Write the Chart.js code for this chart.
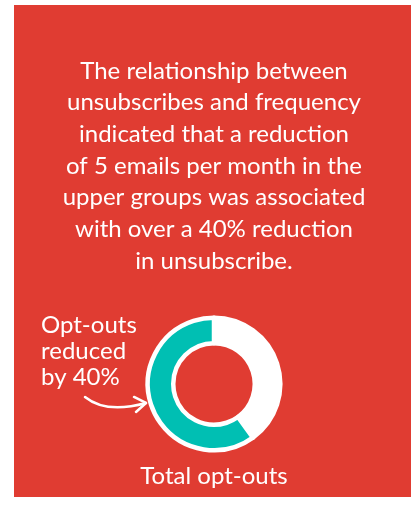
<!DOCTYPE html>
<html>
<head>
<meta charset="utf-8">
<script src="https://cdn.jsdelivr.net/npm/chart.js@4.4.0/dist/chart.umd.min.js"></script>
<style>
  html, body { margin: 0; padding: 0; background: #fff; }
  .panel { position: absolute; left: 14px; top: 5px; width: 397px; height: 492px; background: #e03c32; }
  .wrap { position: absolute; left: 0; top: 0; width: 411px; height: 506px; }
</style>
</head>
<body>
<div class="panel"></div>
<div class="wrap"><canvas id="optChart"></canvas></div>
<script>
// Chart data
const categories = ['Opt-outs reduced', 'Remaining opt-outs'];
const shares = [40, 60];
const sliceColors = ['#ffffff', '#00bfb3'];

const headline = [
    'The relationship between',
    'unsubscribes and frequency',
    'indicated that a reduction',
    'of 5 emails per month in the',
    'upper groups was associated',
    'with over a 40% reduction',
    'in unsubscribe.'
];
const calloutLines = ['Opt-outs', 'reduced', 'by 40%'];
const footerLabel = 'Total opt-outs';

// Callout text + curved arrow, placed next to the doughnut
const calloutPlugin = {
    id: 'callout',
    afterDraw(chart) {
        const arc = chart.getDatasetMeta(0).data[0];
        if (!arc) return;
        const cx = arc.x, cy = arc.y;
        const ctx = chart.ctx;
        ctx.save();
        ctx.fillStyle = '#fff';
        ctx.font = '24px Lato';
        ctx.textAlign = 'left';
        ctx.textBaseline = 'alphabetic';
        calloutLines.forEach((line, i) => {
            ctx.fillText(line, cx - 173, cy - 51 + i * 26);
        });

        // arrow
        ctx.strokeStyle = '#fff';
        ctx.lineWidth = 2.5;
        ctx.lineCap = 'round';
        ctx.lineJoin = 'round';
        ctx.beginPath();
        ctx.moveTo(cx - 129, cy + 13);
        ctx.quadraticCurveTo(cx - 108, cy + 30, cx - 68, cy + 19);
        ctx.stroke();
        ctx.beginPath();
        ctx.moveTo(cx - 80, cy + 13);
        ctx.lineTo(cx - 68, cy + 19);
        ctx.lineTo(cx - 78, cy + 28);
        ctx.stroke();
        ctx.restore();
    }
};

const ctx = document.getElementById('optChart').getContext('2d');
new Chart(ctx, {
    type: 'doughnut',
    data: {
        labels: categories,
        datasets: [{
            data: shares,
            backgroundColor: sliceColors,
            borderColor: '#ffffff',
            borderWidth: 4.5,
            borderJoinStyle: 'round'
        }]
    },
    options: {
        responsive: true,
        maintainAspectRatio: false,
        animation: false,
        cutout: '61.5%',
        layout: {
            padding: { left: 17, right: 0, top: 0, bottom: 0 }
        },
        plugins: {
            legend: { display: false },
            tooltip: { enabled: false },
            title: {
                display: true,
                text: headline,
                color: '#ffffff',
                font: { family: 'Lato', size: 24, weight: 'normal', lineHeight: 1.32 },
                padding: { top: 55.2, bottom: 38.5 }
            },
            subtitle: {
                display: true,
                position: 'bottom',
                text: footerLabel,
                color: '#ffffff',
                font: { family: 'Lato', size: 24, weight: 'normal', lineHeight: 1.2 },
                padding: { top: 9.1, bottom: 15.6 }
            }
        }
    },
    plugins: [calloutPlugin]
});
</script>
</body>
</html>
